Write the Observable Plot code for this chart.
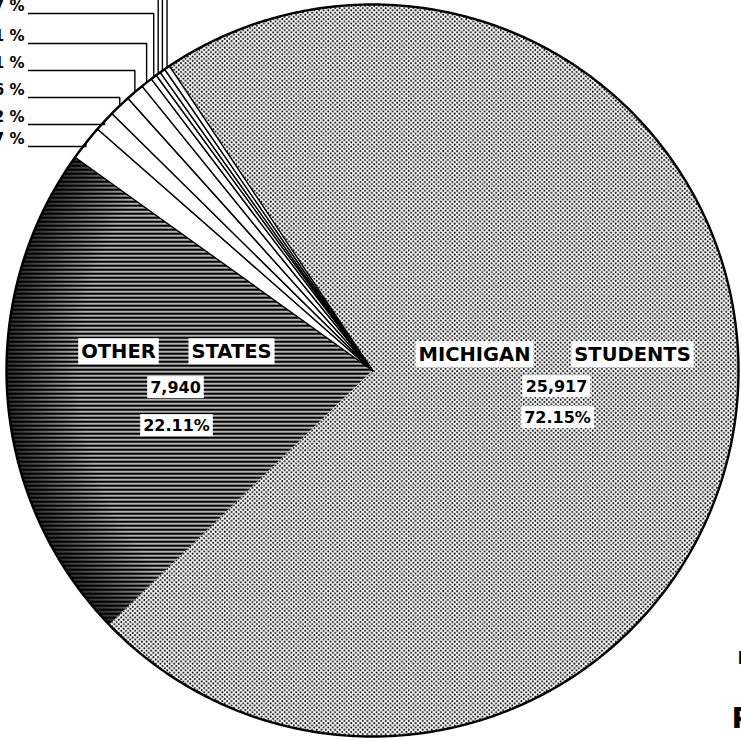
<!DOCTYPE html>
<html><head><meta charset="utf-8">
<script src="https://cdn.jsdelivr.net/npm/d3@7"></script>
<script src="https://cdn.jsdelivr.net/npm/@observablehq/plot@0.6"></script>
<style>
html,body{margin:0;padding:0;background:#fff;overflow:hidden;}
#chart{width:741px;height:741px;overflow:hidden;}
#chart svg{display:block;overflow:hidden;}
</style>
</head><body><div id="chart"></div>
<script>
// ---- data ----
const mainCategories = ["MICHIGAN STUDENTS", "OTHER STATES"];
const mainCounts = [25917, 7940];
const mainPercents = [72.15, 22.11];
// small slices, clockwise after OTHER STATES
const minorPercents = [1.57, 0.92, 0.96, 0.81, 0.51, 0.27, 0.21, 0.24, 0.25];
const minorLabels = ["1.57 %", "0.92 %", "0.96 %", "0.81 %", "0.51 %", "0.27 %", "0.21 %", "0.24 %", "0.25 %"];
const edgeTexts = ["I", "P"];

// ---- geometry helpers (pixel frame of the picture) ----
const W = 741, H = 741, CX = 372, CY = 370, R = 366;
const px2u = px => (px - CX) / R;
const py2v = py => (CY - py) / R;
const S = -33.7 * Math.PI / 180;

const values = [...mainPercents, ...minorPercents];
const kinds = ["michigan", "other", ...minorPercents.map(() => "minor")];
const arcs = d3.pie().sort(null).value(d => d).startAngle(S).endAngle(S + 2 * Math.PI)(values);

const rows = [];
arcs.forEach((a, i) => {
  const n = Math.max(2, Math.ceil((a.endAngle - a.startAngle) / (Math.PI / 360)));
  rows.push({slice: i, kind: kinds[i], u: 0, v: 0});
  for (let k = 0; k <= n; k++) {
    const t = a.startAngle + (a.endAngle - a.startAngle) * k / n;
    rows.push({slice: i, kind: kinds[i], u: Math.sin(t), v: Math.cos(t)});
  }
  rows.push({slice: i, kind: kinds[i], u: 0, v: 0});
});
const circle = d3.range(0, 721).map(k => {
  const t = k / 720 * 2 * Math.PI;
  return {u: Math.sin(t), v: Math.cos(t)};
});

// leader lines for small slices
const rowY = [146, 124, 97, 70, 43, 13];
const leaders = [];
const minorText = [];
arcs.slice(2).forEach((a, j) => {
  const m = (a.startAngle + a.endAngle) / 2;
  const u = Math.sin(m), v = Math.cos(m);
  if (j < 6) {
    const vy = py2v(rowY[j]);
    leaders.push({id: j, u, v}, {id: j, u, v: vy}, {id: j, u: px2u(28), v: vy});
    minorText.push({text: minorLabels[j], u: px2u(24), v: py2v(rowY[j] - 3)});
  } else {
    leaders.push({id: j, u, v}, {id: j, u, v: py2v(-20)});
  }
});

const fmtN = d3.format(",");
const boxLabels = [
  {text: mainCategories[1].split(" ")[0], u: px2u(118), v: py2v(351), size: 19.5},
  {text: mainCategories[1].split(" ")[1], u: px2u(231), v: py2v(351), size: 19.5},
  {text: fmtN(mainCounts[1]), u: px2u(175), v: py2v(387), size: 16},
  {text: mainPercents[1].toFixed(2) + "%", u: px2u(176), v: py2v(425), size: 16},
  {text: mainCategories[0].split(" ")[0], u: px2u(474), v: py2v(354), size: 19.5},
  {text: mainCategories[0].split(" ")[1], u: px2u(632), v: py2v(354), size: 19.5},
  {text: fmtN(mainCounts[0]), u: px2u(556), v: py2v(386), size: 16},
  {text: mainPercents[0].toFixed(2) + "%", u: px2u(557), v: py2v(417), size: 16}
];
const boxTextSet = new Set(boxLabels.map(d => d.text));
const edgeLabels = [
  {text: edgeTexts[0], u: px2u(737), v: py2v(663), size: 18},
  {text: edgeTexts[1], u: px2u(731), v: py2v(727), size: 29}
];

const font = "'DejaVu Sans', sans-serif";
const plot = Plot.plot({
  width: W, height: H,
  marginTop: 0, marginRight: 0, marginBottom: 0, marginLeft: 0,
  style: {background: "#fff", fontFamily: font, overflow: "hidden"},
  x: {domain: [px2u(0), px2u(W)], axis: null},
  y: {domain: [py2v(H), py2v(0)], axis: null},
  marks: [
    Plot.line(rows.filter(d => d.kind === "michigan"), {x: "u", y: "v", z: "slice", fill: "url(#dots)", stroke: "none"}),
    Plot.line(rows.filter(d => d.kind === "other"), {x: "u", y: "v", z: "slice", fill: "url(#stripes)", stroke: "none"}),
    Plot.line(rows.filter(d => d.kind === "other"), {x: "u", y: "v", z: "slice", fill: "url(#edge)", stroke: "none"}),
    Plot.line(rows.filter(d => d.kind === "minor"), {x: "u", y: "v", z: "slice", fill: "white", stroke: "black", strokeWidth: 1.4, strokeLinejoin: "miter"}),
    Plot.line(circle, {x: "u", y: "v", stroke: "black", strokeWidth: 2.4}),
    Plot.line(leaders, {x: "u", y: "v", z: "id", stroke: "black", strokeWidth: 1.4, strokeLinejoin: "miter"}),
    Plot.text(minorText, {x: "u", y: "v", text: "text", textAnchor: "end", lineAnchor: "bottom", fontSize: 15, fontWeight: "bold", fill: "black"}),
    Plot.text(boxLabels, {x: "u", y: "v", text: "text", fontSize: "size", fontWeight: "bold", fill: "black"}),
    Plot.text(edgeLabels, {x: "u", y: "v", text: "text", fontSize: "size", textAnchor: "start", lineAnchor: "bottom", fontWeight: "bold", fill: "black"})
  ]
});

const defs = d3.select(plot).insert("defs", ":first-child");
defs.html(`
  <pattern id="dots" width="4.6" height="4.4" patternUnits="userSpaceOnUse">
    <rect width="4.6" height="4.4" fill="#fff"/>
    <circle cx="1.15" cy="1.1" r="1.0" fill="#000"/>
    <circle cx="3.45" cy="3.3" r="1.0" fill="#000"/>
  </pattern>
  <pattern id="stripes" width="8" height="4" patternUnits="userSpaceOnUse">
    <rect width="8" height="4" fill="#fff"/>
    <rect width="8" height="2.6" fill="#000"/>
  </pattern>
  <radialGradient id="edge" gradientUnits="userSpaceOnUse" cx="${CX}" cy="${CY}" r="${R}">
    <stop offset="0" stop-color="#000" stop-opacity="0"/>
    <stop offset="0.8" stop-color="#000" stop-opacity="0"/>
    <stop offset="1" stop-color="#000" stop-opacity="0.75"/>
  </radialGradient>`);

document.getElementById("chart").appendChild(plot);

// white boxes behind the in-slice labels
Array.from(plot.querySelectorAll("text")).forEach(t => {
  if (!boxTextSet.has(t.textContent)) return;
  const b = t.getBBox();
  const r = document.createElementNS("http://www.w3.org/2000/svg", "rect");
  r.setAttribute("x", b.x - 3);
  r.setAttribute("y", b.y - 1.5);
  r.setAttribute("width", b.width + 6);
  r.setAttribute("height", b.height + 3);
  r.setAttribute("fill", "#fff");
  const tr = t.getAttribute("transform");
  if (tr) r.setAttribute("transform", tr);
  t.parentNode.insertBefore(r, t);
});
</script>
</body></html>
